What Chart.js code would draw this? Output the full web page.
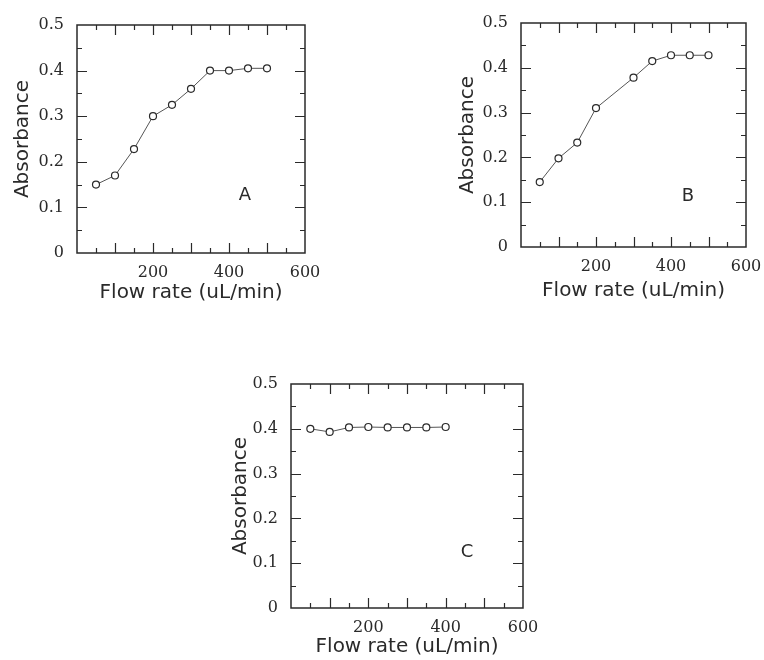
<!DOCTYPE html>
<html>
<head>
<meta charset="utf-8">
<script src="https://cdn.jsdelivr.net/npm/chart.js@4.4.0/dist/chart.umd.min.js"></script>
<style>
html, body { margin: 0; padding: 0; background: #fff; }
#wrap { position: relative; width: 764px; height: 660px; overflow: hidden; }
canvas { position: absolute; }
</style>
</head>
<body>
<div id="wrap">
  <canvas id="chartA"></canvas>
  <canvas id="chartB"></canvas>
  <canvas id="chartC"></canvas>
</div>
<script>
// flow rate (uL/min) and absorbance
var flowA = [50, 100, 150, 200, 250, 300, 350, 400, 450, 500];
var absA = [0.15, 0.17, 0.228, 0.30, 0.325, 0.36, 0.40, 0.40, 0.405, 0.405];

var flowB = [50, 100, 150, 200, 300, 350, 400, 450, 500];
var absB = [0.145, 0.198, 0.233, 0.31, 0.378, 0.415, 0.428, 0.428, 0.428];

var flowC = [50, 100, 150, 200, 250, 300, 350, 400];
var absC = [0.400, 0.393, 0.403, 0.404, 0.403, 0.403, 0.403, 0.404];

var xTickLabels = [200, 400, 600];
var yTickLabels = [0, 0.1, 0.2, 0.3, 0.4, 0.5];
var panelNames = ['A', 'B', 'C'];

var ink = '#2a2a2a';

// frame box with inward ticks on all four sides, plus panel letter
var frameTicks = {
	id: 'frameTicks',
	beforeDatasetsDraw: function(chart) {
		var ctx = chart.ctx, a = chart.chartArea;
		var x = chart.scales.x, y = chart.scales.y;
		ctx.save();
		ctx.strokeStyle = ink;
		ctx.lineWidth = 1.5;
		ctx.strokeRect(a.left, a.top, a.right - a.left, a.bottom - a.top);
		ctx.lineWidth = 1.2;
		ctx.beginPath();
		for (var i = 1; i < 12; i++) {
			var len = i % 2 === 0 ? 10 : 5;
			var px = Math.round(x.getPixelForValue(i * 50)) + 0.5;
			ctx.moveTo(px, a.bottom); ctx.lineTo(px, a.bottom - len);
			ctx.moveTo(px, a.top); ctx.lineTo(px, a.top + len);
		}
		for (var j = 1; j < 10; j++) {
			var len2 = j % 2 === 0 ? 10 : 5;
			var py = Math.round(y.getPixelForValue(j * 0.05)) + 0.5;
			ctx.moveTo(a.left, py); ctx.lineTo(a.left + len2, py);
			ctx.moveTo(a.right, py); ctx.lineTo(a.right - len2, py);
		}
		ctx.stroke();
		ctx.restore();
	},
	afterDraw: function(chart) {
		var o = chart.options.plugins.frameTicks;
		var ctx = chart.ctx;
		ctx.save();
		ctx.fillStyle = ink;
		ctx.font = '18px "DejaVu Sans"';
		ctx.textAlign = 'center';
		ctx.textBaseline = 'middle';
		ctx.fillText(o.letter, chart.scales.x.getPixelForValue(o.at[0]), chart.scales.y.getPixelForValue(o.at[1]));
		ctx.restore();
	}
};

function makePanel(id, flow, abs, letter, box, plot, yTitleX, xTitleY, letterAt) {
	var cv = document.getElementById(id);
	cv.width = box.w;
	cv.height = box.h;
	cv.style.left = box.x + 'px';
	cv.style.top = box.y + 'px';

	var points = flow.map(function(f, i) { return { x: f, y: abs[i] }; });

	return new Chart(cv.getContext('2d'), {
		type: 'scatter',
		data: {
			datasets: [{
				data: points,
				showLine: true,
				borderColor: '#555',
				borderWidth: 1,
				pointRadius: 3.5,
				pointBackgroundColor: '#fff',
				pointBorderColor: ink,
				pointBorderWidth: 1.2
			}]
		},
		options: {
			responsive: false,
			animation: false,
			layout: {
				padding: { left: 0, top: plot.t - box.y, right: box.x + box.w - plot.r, bottom: 0 }
			},
			plugins: {
				legend: { display: false },
				tooltip: { enabled: false },
				frameTicks: { letter: letter, at: letterAt }
			},
			scales: {
				x: {
					type: 'linear',
					min: 0,
					max: 600,
					grid: { display: false, drawTicks: false },
					border: { display: false },
					afterBuildTicks: function(s) {
						s.ticks = xTickLabels.map(function(v) { return { value: v }; });
					},
					afterFit: function(s) {
						s.height = box.y + box.h - plot.b;
						s.paddingLeft = 0; s.paddingRight = 0;
					},
					ticks: {
						padding: 10,
						maxRotation: 0,
						color: ink,
						font: { family: '"DejaVu Serif"', size: 16 },
						callback: function(v) { return String(v); }
					},
					title: {
						display: true,
						text: 'Flow rate (uL/min)',
						color: ink,
						font: { family: '"DejaVu Sans"', size: 20 },
						padding: { top: 0, bottom: box.y + box.h - xTitleY - 12 }
					}
				},
				y: {
					type: 'linear',
					min: 0,
					max: 0.5,
					grid: { display: false, drawTicks: false },
					border: { display: false },
					afterBuildTicks: function(s) {
						s.ticks = yTickLabels.map(function(v) { return { value: v }; });
					},
					afterFit: function(s) {
						s.width = plot.l - box.x;
						s.paddingTop = 0; s.paddingBottom = 0;
					},
					ticks: {
						padding: 13,
						color: ink,
						font: { family: '"DejaVu Serif"', size: 16 },
						callback: function(v) { return v === 0 ? '0' : v.toFixed(1); }
					},
					title: {
						display: true,
						text: 'Absorbance',
						color: ink,
						font: { family: '"DejaVu Sans"', size: 20 },
						padding: { top: yTitleX - box.x - 12, bottom: 0 }
					}
				}
			}
		},
		plugins: [frameTicks]
	});
}

makePanel('chartA', flowA, absA, panelNames[0],
	{ x: 0, y: 0, w: 320, h: 310 }, { l: 77, t: 25, r: 305, b: 253 }, 23, 293, [442, 0.127]);
makePanel('chartB', flowB, absB, panelNames[1],
	{ x: 440, y: 0, w: 324, h: 310 }, { l: 521, t: 23, r: 746, b: 247 }, 468, 291, [445, 0.112]);
makePanel('chartC', flowC, absC, panelNames[2],
	{ x: 220, y: 355, w: 330, h: 305 }, { l: 291, t: 384, r: 523, b: 608 }, 241, 647, [455, 0.125]);
</script>
</body>
</html>
